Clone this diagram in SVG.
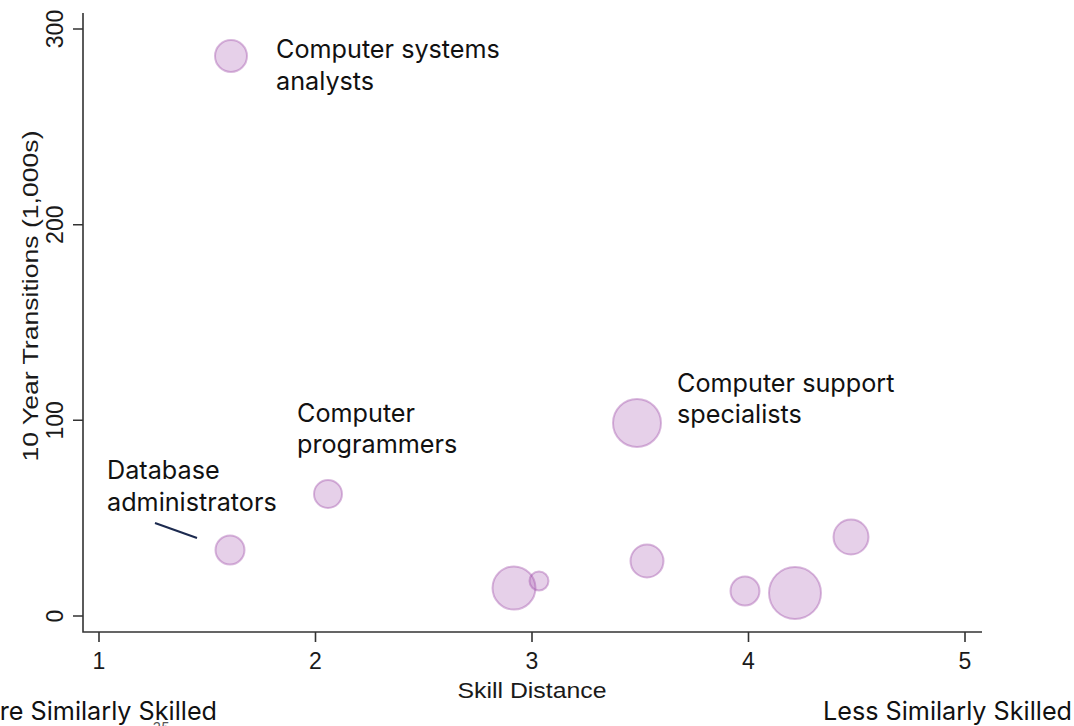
<svg xmlns="http://www.w3.org/2000/svg" width="1074" height="726" viewBox="0 0 1074 726">
  <style>
    .axis { stroke: #333333; stroke-width: 1.6; fill: none; }
    .tick { font-family: "Liberation Sans", Arial, sans-serif; font-size: 23px; fill: #1a1a1a; }
    .title { font-family: "Liberation Sans", Arial, sans-serif; font-size: 22px; fill: #1a1a1a; }
    .bubble { fill: rgb(165, 85, 175); fill-opacity: 0.28; stroke: rgb(160, 80, 170); stroke-opacity: 0.4; stroke-width: 2; }
    .label { font-family: Inter, "Noto Sans", sans-serif; font-size: 25.2px; fill: #111111; }
    .pointer { stroke: #1c2a4f; stroke-width: 2; fill: none; }
    .pagenum { font-family: Inter, "Noto Sans", sans-serif; font-size: 14px; fill: #555555; }
  </style>

  <rect width="1074" height="726" fill="#ffffff"/>

  <!-- axes: x from 1 (99) to 5 (965), y from 0 (616) to 300 (29) -->
  <g id="axes">
    <path class="axis" d="M83 13 V632 H982"/>
    <path class="axis" d="M73 29 H83 M73 224.7 H83 M73 420.3 H83 M73 616 H83"/>
    <path class="axis" d="M99 632 V642 M315.5 632 V642 M532 632 V642 M748.5 632 V642 M965 632 V642"/>
    <g class="tick" text-anchor="middle">
      <text transform="translate(63 29) rotate(-90)">300</text>
      <text transform="translate(63 224.7) rotate(-90)">200</text>
      <text transform="translate(63 420.3) rotate(-90)">100</text>
      <text transform="translate(63 616) rotate(-90)">0</text>
      <text x="99" y="669">1</text>
      <text x="315.5" y="669">2</text>
      <text x="532" y="669">3</text>
      <text x="748.5" y="669">4</text>
      <text x="965" y="669">5</text>
    </g>
    <text class="title" x="532" y="698" text-anchor="middle" textLength="149" lengthAdjust="spacingAndGlyphs">Skill Distance</text>
    <text class="title" transform="translate(38 296) rotate(-90)" text-anchor="middle" textLength="331" lengthAdjust="spacingAndGlyphs">10 Year Transitions (1,000s)</text>
  </g>

  <!-- labelled occupations -->
  <g id="computer-systems-analysts">
    <circle class="bubble" cx="231" cy="56" r="16"/>
    <text class="label" x="276" y="58">Computer systems</text>
    <text class="label" x="276" y="90">analysts</text>
  </g>
  <g id="database-administrators">
    <circle class="bubble" cx="230" cy="550" r="14.5"/>
    <text class="label" x="107" y="479">Database</text>
    <text class="label" x="107" y="511">administrators</text>
  </g>
  <g id="computer-programmers">
    <circle class="bubble" cx="328" cy="494" r="14"/>
    <text class="label" x="297" y="422">Computer</text>
    <text class="label" x="297" y="453">programmers</text>
  </g>
  <g id="computer-support-specialists">
    <circle class="bubble" cx="637" cy="423" r="24"/>
    <text class="label" x="677" y="392">Computer support</text>
    <text class="label" x="677" y="423">specialists</text>
  </g>

  <!-- unlabelled occupations -->
  <g id="occ-5"><circle class="bubble" cx="514" cy="588" r="21.5"/></g>
  <g id="occ-6"><circle class="bubble" cx="539" cy="581" r="9.5"/></g>
  <g id="occ-7"><circle class="bubble" cx="647" cy="561" r="16.5"/></g>
  <g id="occ-8"><circle class="bubble" cx="745" cy="591" r="14.5"/></g>
  <g id="occ-9"><circle class="bubble" cx="795" cy="593" r="26"/></g>
  <g id="occ-10"><circle class="bubble" cx="851" cy="537" r="17.5"/></g>

  <g id="connectors">
    <line class="pointer" x1="155" y1="523" x2="197" y2="538"/>
  </g>

  <!-- scale direction notes -->
  <g id="direction-notes">
    <text class="label" x="217" y="720" text-anchor="end">More Similarly Skilled</text>
    <text class="label" x="823" y="720">Less Similarly Skilled</text>
  </g>
  <text class="pagenum" x="161" y="733" text-anchor="middle">35</text>
</svg>
